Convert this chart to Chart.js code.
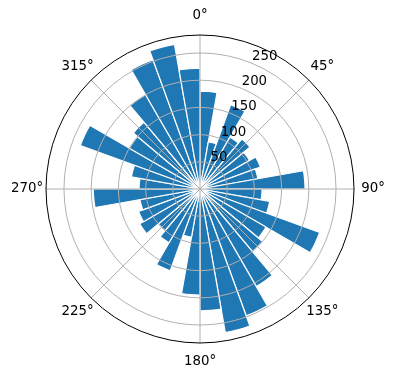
<!DOCTYPE html>
<html>
<head>
<meta charset="utf-8">
<script src="https://cdn.jsdelivr.net/npm/chart.js@4/dist/chart.umd.min.js"></script>
<style>
  html, body { margin: 0; padding: 0; background: #fff; }
  canvas { display: block; }
</style>
</head>
<body>
<canvas id="polar" width="396" height="380"></canvas>
<script>
// ── Data ────────────────────────────────────────────────────────────────────
// 36 bins of 10°, clockwise from north
const binStarts = [0, 10, 20, 30, 40, 50, 60, 70, 80,
                   90, 100, 110, 120, 130, 140, 150, 160, 170,
                   180, 190, 200, 210, 220, 230, 240, 250, 260,
                   270, 280, 290, 300, 310, 320, 330, 340, 350];
const counts = [180, 88, 165, 110, 120, 105, 118, 108, 193,
                114, 130, 234, 140, 150, 207, 248, 268, 224,
                195, 90, 160, 114, 100, 128, 120, 112, 196,
                112, 128, 234, 150, 160, 200, 253, 270, 222];
const rTicks = [50, 100, 150, 200, 250];
const thetaTicks = [0, 45, 90, 135, 180, 225, 270, 315];
const R_MAX = 283;

const BAR_COLOR = "#1f77b4";
const GRID_COLOR = "#b0b0b0";
const FONT = "13.33px 'DejaVu Sans', sans-serif";

// ── Grid, spine and labels drawn over the bars (matplotlib style) ────────────
const polarDecor = {
  id: "polarDecor",
  afterDatasetsDraw(chart) {
    const s = chart.scales.r;
    const ctx = chart.ctx;
    const cx = s.xCenter, cy = s.yCenter;
    const R = s.getDistanceFromCenterForValue(R_MAX);
    const rad = (deg) => (deg - 90) * Math.PI / 180;

    ctx.save();
    ctx.lineWidth = 1;
    ctx.strokeStyle = GRID_COLOR;

    // circular grid
    rTicks.forEach((v) => {
      ctx.beginPath();
      ctx.arc(cx, cy, s.getDistanceFromCenterForValue(v), 0, 2 * Math.PI);
      ctx.stroke();
    });

    // angular grid
    thetaTicks.forEach((deg) => {
      const a = rad(deg);
      ctx.beginPath();
      ctx.moveTo(cx, cy);
      ctx.lineTo(cx + R * Math.cos(a), cy + R * Math.sin(a));
      ctx.stroke();
    });

    // outer spine
    ctx.strokeStyle = "#000";
    ctx.beginPath();
    ctx.arc(cx, cy, R, 0, 2 * Math.PI);
    ctx.stroke();

    // radial tick labels at 22.5°
    ctx.fillStyle = "#000";
    ctx.font = FONT;
    ctx.textAlign = "left";
    ctx.textBaseline = "bottom";
    const la = rad(22.5);
    rTicks.forEach((v) => {
      const d = s.getDistanceFromCenterForValue(v);
      ctx.fillText(String(v), cx + d * Math.cos(la), cy + d * Math.sin(la));
    });

    // angle labels
    ctx.textAlign = "center";
    ctx.textBaseline = "middle";
    thetaTicks.forEach((deg) => {
      const a = rad(deg);
      ctx.fillText(deg + "°", cx + (R + 19) * Math.cos(a), cy + (R + 19) * Math.sin(a));
    });
    ctx.restore();
  },
};

// ── Chart ────────────────────────────────────────────────────────────────────
new Chart(document.getElementById("polar"), {
  type: "polarArea",
  data: {
    labels: binStarts.map((b) => b + "°"),
    datasets: [{
      data: counts,
      backgroundColor: BAR_COLOR,
      borderColor: "#fff",
      borderWidth: 1.2,
    }],
  },
  options: {
    responsive: false,
    animation: false,
    layout: { padding: { left: 46, right: 42, top: 35, bottom: 37 } },
    plugins: {
      legend: { display: false },
      tooltip: { enabled: false },
    },
    scales: {
      r: {
        min: 0,
        max: R_MAX,
        startAngle: 0,
        ticks: { display: false, stepSize: 50 },
        grid: { display: false },
        angleLines: { display: false },
        pointLabels: { display: false },
      },
    },
  },
  plugins: [polarDecor],
});
</script>
</body>
</html>
